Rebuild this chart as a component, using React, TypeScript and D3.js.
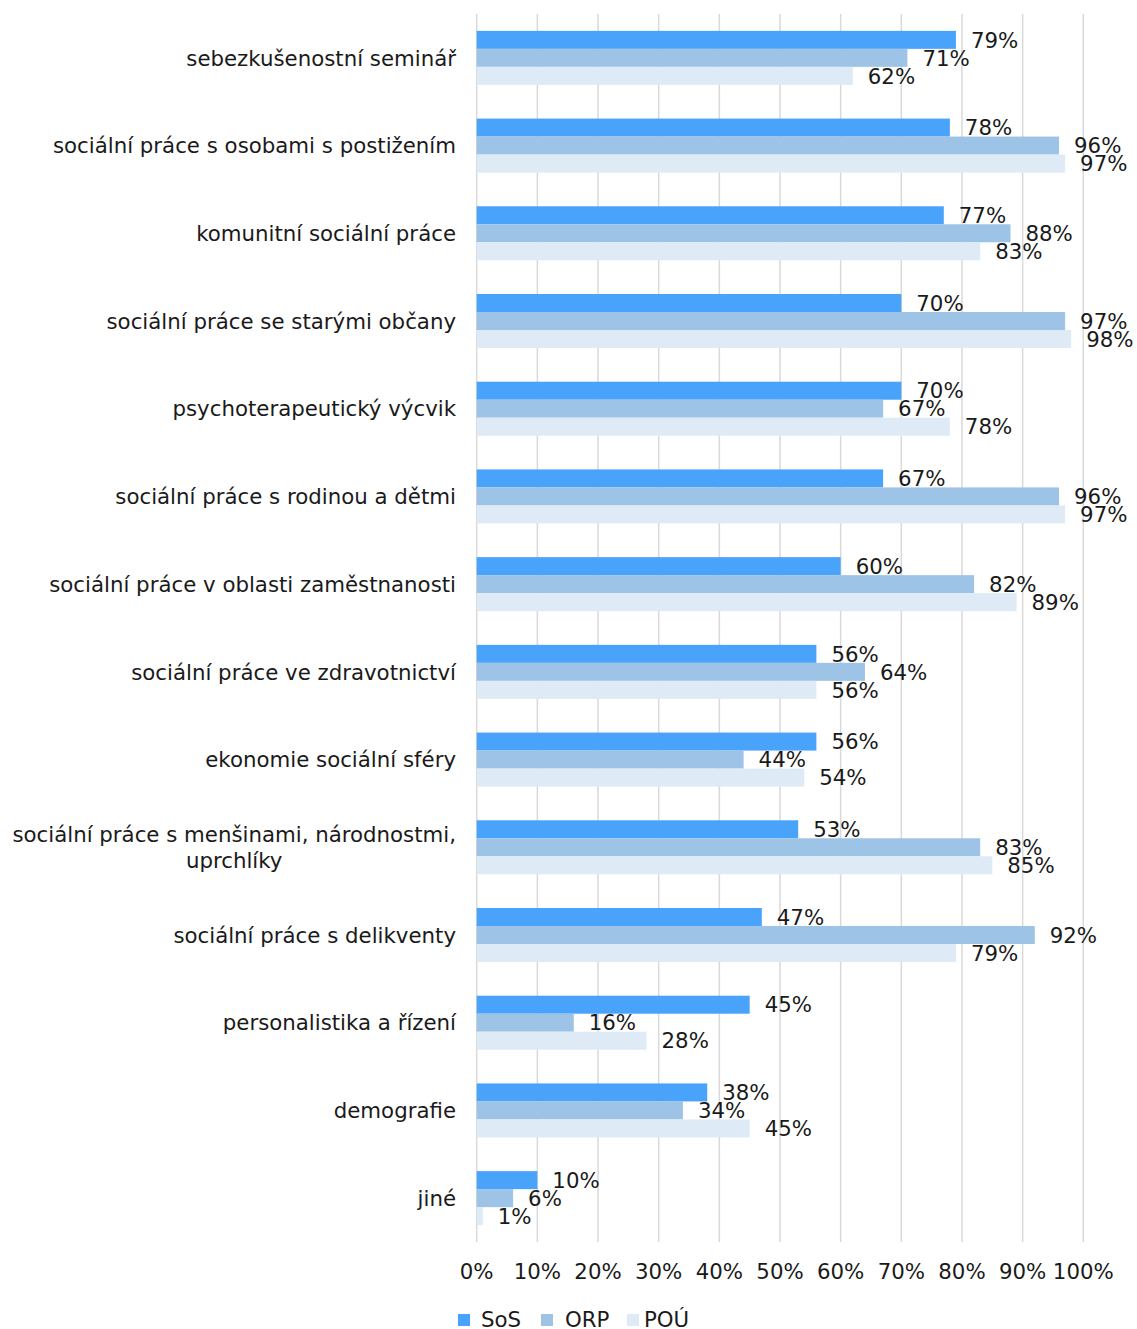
import React, { useEffect, useRef } from "react";
import * as d3 from "d3";

const categories: string[][] = [
  ["sebezkušenostní seminář"],
  ["sociální práce s osobami s postižením"],
  ["komunitní sociální práce"],
  ["sociální práce se starými občany"],
  ["psychoterapeutický výcvik"],
  ["sociální práce s rodinou a dětmi"],
  ["sociální práce v oblasti zaměstnanosti"],
  ["sociální práce ve zdravotnictví"],
  ["ekonomie sociální sféry"],
  ["sociální práce s menšinami, národnostmi,", "uprchlíky"],
  ["sociální práce s delikventy"],
  ["personalistika a řízení"],
  ["demografie"],
  ["jiné"],
];

const seriesNames = ["SoS", "ORP", "POÚ"];
const sosValues = [79, 78, 77, 70, 70, 67, 60, 56, 56, 53, 47, 45, 38, 10];
const orpValues = [71, 96, 88, 97, 67, 96, 82, 64, 44, 83, 92, 16, 34, 6];
const pouValues = [62, 97, 83, 98, 78, 97, 89, 56, 54, 85, 79, 28, 45, 1];
const xTicks = [0, 10, 20, 30, 40, 50, 60, 70, 80, 90, 100];
const colors = ["#4aa3fb", "#9dc3e6", "#deeaf6"];

const W = 1137;
const H = 1329;
const FONT = "'DejaVu Sans', Verdana, sans-serif";
const FS = 21.3;

export default function App() {
  const ref = useRef<SVGSVGElement>(null);
  useEffect(() => {
    const svg = d3.select(ref.current);
    svg.selectAll("*").remove();
    const series = [sosValues, orpValues, pouValues];
    const keys = categories.map((c) => c.join(" "));
    const x = d3.scaleLinear().domain([0, 100]).range([476.7, 1083.3]);
    const y = d3
      .scaleBand<string>()
      .domain(keys)
      .range([14, 1242])
      .paddingInner(0.3843)
      .paddingOuter(0.19215);
    const ys = d3
      .scaleBand<string>()
      .domain(seriesNames)
      .range([0, y.bandwidth()]);

    const g = svg.append("g").attr("font-family", FONT).attr("font-size", FS);

    // gridlines
    g.selectAll("line.grid")
      .data(xTicks)
      .enter()
      .append("line")
      .attr("x1", (d) => x(d))
      .attr("x2", (d) => x(d))
      .attr("y1", 14)
      .attr("y2", 1242)
      .attr("stroke", "#d9d9d9")
      .attr("stroke-width", 1.5);

    // bars
    series.forEach((vals, si) => {
      const name = seriesNames[si];
      g.selectAll(`rect.s${si}`)
        .data(vals)
        .enter()
        .append("rect")
        .attr("x", x(0))
        .attr("y", (_, i) => (y(keys[i]) as number) + (ys(name) as number))
        .attr("width", (d) => x(d) - x(0))
        .attr("height", ys.bandwidth())
        .attr("fill", colors[si]);
    });

    // data labels
    series.forEach((vals, si) => {
      const name = seriesNames[si];
      g.selectAll(`text.l${si}`)
        .data(vals)
        .enter()
        .append("text")
        .attr("x", (d) => x(d) + 15)
        .attr(
          "y",
          (_, i) =>
            (y(keys[i]) as number) + (ys(name) as number) + ys.bandwidth() / 2
        )
        .attr("dy", "0.36em")
        .attr("fill", "#1a1a1a")
        .text((d) => `${d}%`);
    });

    // category labels
    const lineH = 26;
    categories.forEach((lines, i) => {
      const cy = (y(keys[i]) as number) + y.bandwidth() / 2;
      const t = g
        .append("text")
        .attr("fill", "#1a1a1a")
        .attr("text-anchor", lines.length > 1 ? "middle" : "end");
      lines.forEach((ln, li) => {
        t.append("tspan")
          .attr("x", 456)
          .attr("y", cy + (li - (lines.length - 1) / 2) * lineH)
          .attr("dy", "0.36em")
          .text(ln);
      });
      if (lines.length > 1) {
        const tspans = t.selectAll<SVGTSpanElement, unknown>("tspan").nodes();
        const maxW = d3.max(tspans, (n) => n.getComputedTextLength()) || 0;
        t.selectAll("tspan").attr("x", 456 - maxW / 2);
      }
    });

    // x tick labels
    g.selectAll("text.tick")
      .data(xTicks)
      .enter()
      .append("text")
      .attr("x", (d) => x(d))
      .attr("y", 1271)
      .attr("dy", "0.36em")
      .attr("text-anchor", "middle")
      .attr("fill", "#1a1a1a")
      .text((d) => `${d}%`);

    // legend
    const legendX = [458, 541, 627];
    const legendTextX = [481, 565, 644];
    seriesNames.forEach((n, i) => {
      g.append("rect")
        .attr("x", legendX[i])
        .attr("y", 1314)
        .attr("width", 12)
        .attr("height", 12)
        .attr("fill", colors[i]);
      g.append("text")
        .attr("x", legendTextX[i])
        .attr("y", 1319)
        .attr("dy", "0.36em")
        .attr("fill", "#1a1a1a")
        .text(n);
    });
  }, []);

  return (
    <svg
      ref={ref}
      width={W}
      height={H}
      style={{ position: "absolute", left: 0, top: 0, background: "#fff" }}
    />
  );
}
